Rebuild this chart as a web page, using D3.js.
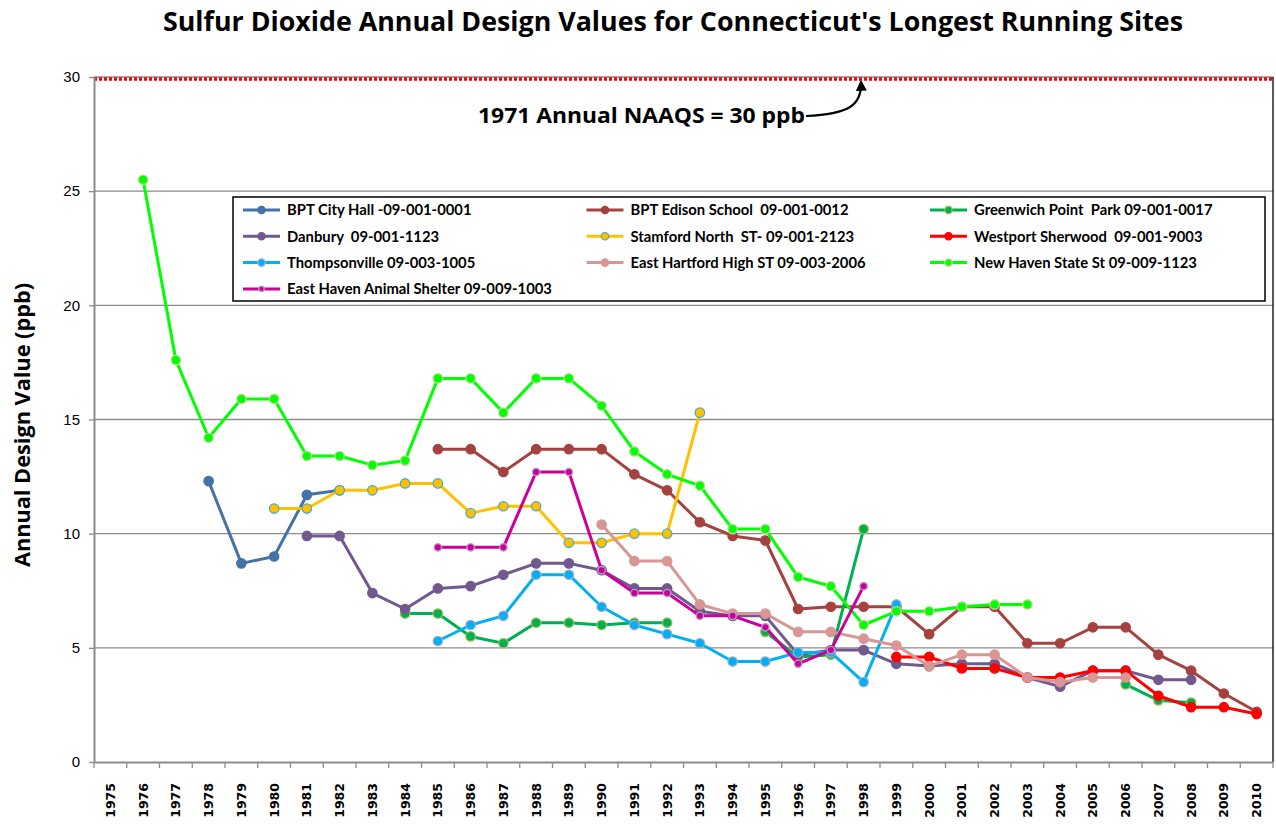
<!DOCTYPE html>
<html>
<head>
<meta charset="utf-8">
<script src="https://cdn.jsdelivr.net/npm/d3@7"></script>
<style>
  body { margin: 0; background: #fff; }
  svg { display: block; }
</style>
</head>
<body>
<svg id="chart" width="1276" height="825"></svg>
<script>
// categories
const years = [1975, 1976, 1977, 1978, 1979, 1980, 1981, 1982, 1983, 1984,
  1985, 1986, 1987, 1988, 1989, 1990, 1991, 1992, 1993, 1994, 1995, 1996,
  1997, 1998, 1999, 2000, 2001, 2002, 2003, 2004, 2005, 2006, 2007, 2008,
  2009, 2010];
const yTicks = [0, 5, 10, 15, 20, 25, 30];
const naaqs = 30;

// each series starts at its first year, null = no value that year
const bptCityHall = [12.3, 8.7, 9.0, 11.7, 11.9];                       // from 1978
const bptEdison = [13.7, 13.7, 12.7, 13.7, 13.7, 13.7, 12.6, 11.9, 10.5, 9.9,
  9.7, 6.7, 6.8, 6.8, 6.8, 5.6, 6.8, 6.8, 5.2, 5.2, 5.9, 5.9, 4.7, 4.0, 3.0, 2.2]; // from 1985
const greenwich = [6.5, 6.5, 5.5, 5.2, 6.1, 6.1, 6.0, 6.1, 6.1, null, null,
  5.7, 4.6, 4.7, 10.2, null, null, null, null, null, null, null, 3.4, 2.7, 2.6]; // from 1984
const danbury = [9.9, 9.9, 7.4, 6.7, 7.6, 7.7, 8.2, 8.7, 8.7, 8.4, 7.6, 7.6,
  6.6, 6.4, 6.4, 4.7, 4.9, 4.9, 4.3, 4.2, 4.3, 4.3, 3.7, 3.3, 4.0, 4.0, 3.6, 3.6]; // from 1981
const stamford = [11.1, 11.1, 11.9, 11.9, 12.2, 12.2, 10.9, 11.2, 11.2, 9.6,
  9.6, 10.0, 10.0, 15.3];                                                 // from 1980
const westport = [4.6, 4.6, 4.1, 4.1, 3.7, 3.7, 4.0, 4.0, 2.9, 2.4, 2.4, 2.1]; // from 1999
const thompsonville = [5.3, 6.0, 6.4, 8.2, 8.2, 6.8, 6.0, 5.6, 5.2, 4.4, 4.4,
  4.8, 4.8, 3.5, 6.9];                                                    // from 1985
const eastHartford = [10.4, 8.8, 8.8, 6.9, 6.5, 6.5, 5.7, 5.7, 5.4, 5.1, 4.2,
  4.7, 4.7, 3.7, 3.5, 3.7, 3.7];                                          // from 1990
const newHaven = [25.5, 17.6, 14.2, 15.9, 15.9, 13.4, 13.4, 13.0, 13.2, 16.8,
  16.8, 15.3, 16.8, 16.8, 15.6, 13.6, 12.6, 12.1, 10.2, 10.2, 8.1, 7.7, 6.0,
  6.6, 6.6, 6.8, 6.9, 6.9];                                               // from 1976
const eastHaven = [9.4, 9.4, 9.4, 12.7, 12.7, 8.4, 7.4, 7.4, 6.4, 6.4, 5.9,
  4.3, 4.9, 7.7];                                                         // from 1985

const series = [
  {name: "BPT City Hall -09-001-0001", first: 1978, values: bptCityHall, color: "#4572A7", edge: "#4572A7", r: 4.7},
  {name: "BPT Edison School  09-001-0012", first: 1985, values: bptEdison, color: "#A5423F", edge: "#A5423F", r: 4.7},
  {name: "Greenwich Point  Park 09-001-0017", first: 1984, values: greenwich, color: "#00B050", edge: "#9BBB59", r: 4.7},
  {name: "Danbury  09-001-1123", first: 1981, values: danbury, color: "#71588F", edge: "#71588F", r: 4.7},
  {name: "Stamford North  ST- 09-001-2123", first: 1980, values: stamford, color: "#FFC000", edge: "#4BACC6", r: 4.7},
  {name: "Westport Sherwood  09-001-9003", first: 1999, values: westport, color: "#FF0000", edge: "#FF0000", r: 4.7},
  {name: "Thompsonville 09-003-1005", first: 1985, values: thompsonville, color: "#00B0F0", edge: "#A4A9D6", r: 4.7},
  {name: "East Hartford High ST 09-003-2006", first: 1990, values: eastHartford, color: "#D99694", edge: "#D99694", r: 4.7},
  {name: "New Haven State St 09-009-1123", first: 1976, values: newHaven, color: "#00FF00", edge: "#C3D69B", r: 4.7},
  {name: "East Haven Animal Shelter 09-009-1003", first: 1985, values: eastHaven, color: "#CC0099", edge: "#B3A2C7", r: 3.7}
];

const plotLeft = 94, plotRight = 1273, plotTop = 77, plotBottom = 762;
const svg = d3.select("#chart");

const x = d3.scaleBand().domain(years).range([plotLeft, plotRight]);
const y = d3.scaleLinear().domain([0, 30]).range([plotBottom, plotTop]);
const cx = yr => x(yr) + x.bandwidth() / 2;

// gridlines
svg.append("g")
  .selectAll("line")
  .data(yTicks.filter(d => d > 0))
  .join("line")
    .attr("x1", plotLeft).attr("x2", plotRight)
    .attr("y1", d => y(d)).attr("y2", d => y(d))
    .attr("stroke", "#8c8c8c").attr("stroke-width", 1.3);

// right border of plot area
svg.append("line")
  .attr("x1", plotRight).attr("x2", plotRight).attr("y1", plotTop).attr("y2", plotBottom)
  .attr("stroke", "#000").attr("stroke-width", 1.3);

// 30 ppb standard
svg.append("line")
  .attr("x1", plotLeft).attr("x2", plotRight)
  .attr("y1", y(naaqs) + 2).attr("y2", y(naaqs) + 2)
  .attr("stroke", "#FF0000").attr("stroke-width", 3.5)
  .attr("stroke-dasharray", "3,2");

// y axis
const yAxis = svg.append("g")
  .attr("transform", `translate(${plotLeft},0)`)
  .call(d3.axisLeft(y).tickValues(yTicks).tickSize(5).tickPadding(9).tickSizeOuter(0));
yAxis.select(".domain").attr("stroke", "#8c8c8c").attr("stroke-width", 2);
yAxis.selectAll(".tick line").attr("stroke", "#8c8c8c").attr("stroke-width", 1.3);
yAxis.selectAll(".tick text")
  .attr("font-family", "Liberation Sans, Arial, sans-serif")
  .attr("font-size", 15).attr("fill", "#000");

// x axis: labels centred on bands, ticks on band edges
const xAxis = svg.append("g")
  .attr("transform", `translate(0,${plotBottom})`)
  .call(d3.axisBottom(x).tickSize(0).tickSizeOuter(0));
xAxis.select(".domain").attr("stroke", "#8c8c8c").attr("stroke-width", 2);
xAxis.selectAll(".tick text")
  .attr("font-family", "DejaVu Sans, sans-serif")
  .attr("font-weight", "bold")
  .attr("font-size", 12.5)
  .attr("fill", "#000")
  .attr("text-anchor", "end")
  .attr("dy", "0.35em")
  .attr("transform", "translate(0,21) rotate(-90)")
  .attr("x", 0).attr("y", 0);
xAxis.append("g")
  .selectAll("line")
  .data(years.map(d => x(d)).concat([plotRight]))
  .join("line")
    .attr("x1", d => d).attr("x2", d => d)
    .attr("y1", 0).attr("y2", 6)
    .attr("stroke", "#8c8c8c").attr("stroke-width", 1.3);

// series
const line = d3.line()
  .defined(d => d.v != null)
  .x(d => cx(d.year))
  .y(d => y(d.v));

series.forEach(s => {
  const pts = s.values.map((v, i) => ({year: s.first + i, v: v}));
  const g = svg.append("g");
  g.append("path")
    .datum(pts)
    .attr("d", line)
    .attr("fill", "none")
    .attr("stroke", s.color)
    .attr("stroke-width", 3)
    .attr("stroke-linejoin", "round");
  g.selectAll("circle")
    .data(pts.filter(d => d.v != null))
    .join("circle")
      .attr("cx", d => cx(d.year))
      .attr("cy", d => y(d.v))
      .attr("r", s.r)
      .attr("fill", s.color)
      .attr("stroke", s.edge)
      .attr("stroke-width", 1.3);
});

// legend
const legend = svg.append("g");
legend.append("rect")
  .attr("x", 233).attr("y", 197).attr("width", 1032).attr("height", 104)
  .attr("fill", "#fff").attr("stroke", "#000").attr("stroke-width", 1.5);
const item = legend.selectAll("g.item")
  .data(series)
  .join("g")
    .attr("class", "item")
    .attr("transform", (d, i) => `translate(${243 + (i % 3) * 343.5},${210 + Math.floor(i / 3) * 26.3})`);
item.append("line")
  .attr("x1", 0).attr("x2", 37).attr("y1", 0).attr("y2", 0)
  .attr("stroke", d => d.color).attr("stroke-width", 3);
item.append("circle")
  .attr("cx", 18.5).attr("cy", 0).attr("r", d => d.r - 1)
  .attr("fill", d => d.color).attr("stroke", d => d.edge).attr("stroke-width", 1.2);
item.append("text")
  .attr("x", 44).attr("y", 0).attr("dy", "0.36em")
  .attr("font-family", "Lato, sans-serif").attr("font-weight", "bold")
  .attr("font-size", 14.8).attr("fill", "#000")
  .style("white-space", "pre")
  .text(d => d.name);

// title
svg.append("text")
  .attr("x", 673).attr("y", 31)
  .attr("text-anchor", "middle")
  .attr("font-family", "Open Sans, sans-serif").attr("font-weight", "bold")
  .attr("font-size", 26)
  .attr("textLength", 1020).attr("lengthAdjust", "spacingAndGlyphs")
  .text("Sulfur Dioxide Annual Design Values for Connecticut's Longest Running Sites");

// y title
svg.append("text")
  .attr("transform", "translate(30,425) rotate(-90)")
  .attr("text-anchor", "middle")
  .attr("font-family", "Open Sans, sans-serif").attr("font-weight", "bold")
  .attr("font-size", 21.5)
  .attr("textLength", 284).attr("lengthAdjust", "spacingAndGlyphs")
  .text("Annual Design Value (ppb)");

// annotation with curved arrow
svg.append("defs").append("marker")
  .attr("id", "head")
  .attr("viewBox", "0 0 10 10")
  .attr("refX", 8).attr("refY", 5)
  .attr("markerWidth", 5).attr("markerHeight", 5)
  .attr("orient", "auto")
  .append("path").attr("d", "M0,0 L10,5 L0,10 z").attr("fill", "#000");

svg.append("text")
  .attr("x", 641.5).attr("y", 123)
  .attr("text-anchor", "middle")
  .attr("font-family", "Open Sans, sans-serif").attr("font-weight", "bold")
  .attr("font-size", 22)
  .attr("textLength", 327).attr("lengthAdjust", "spacingAndGlyphs")
  .text("1971 Annual NAAQS = 30 ppb");

svg.append("path")
  .attr("d", "M806,116 C848,114 862,106 861,82")
  .attr("fill", "none").attr("stroke", "#000").attr("stroke-width", 2.2)
  .attr("marker-end", "url(#head)");
</script>
</body>
</html>
